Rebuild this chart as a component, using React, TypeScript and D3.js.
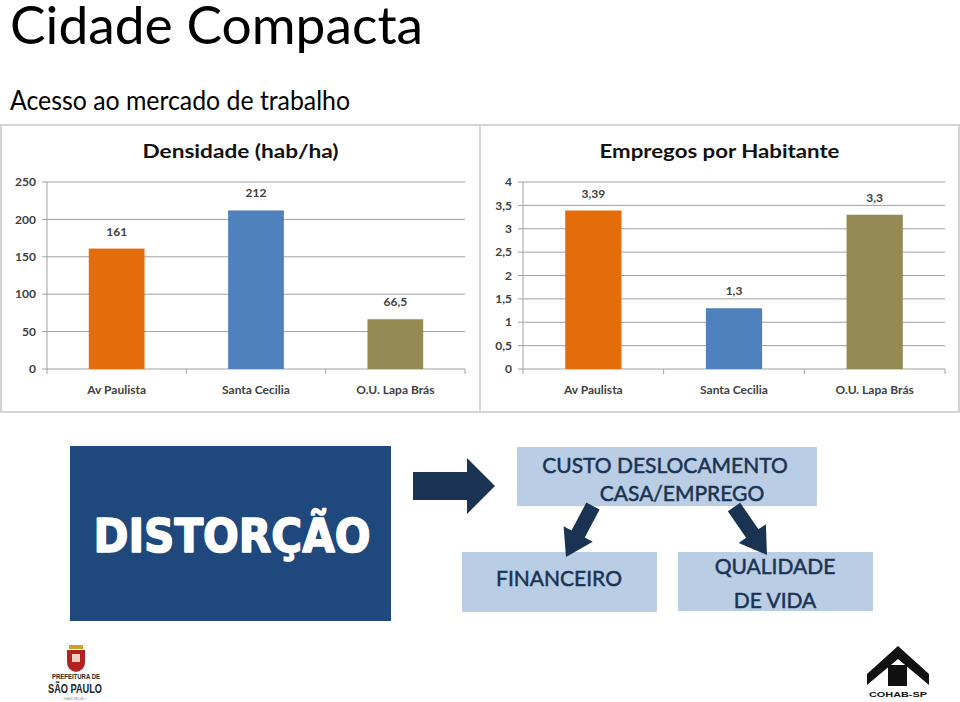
import React from 'react';
import * as d3 from 'd3';

// slide text
const slideTitle = 'Cidade Compacta';
const slideSubtitle = 'Acesso ao mercado de trabalho';

// chart data
const categories = ['Av Paulista', 'Santa Cecilia', 'O.U. Lapa Brás'];
const densityValues = [161, 212, 66.5];
const densityTicks = [0, 50, 100, 150, 200, 250];
const jobsValues = [3.39, 1.3, 3.3];
const jobsTicks = [0, 0.5, 1, 1.5, 2, 2.5, 3, 3.5, 4];
const barColors = ['#E46C0A', '#4F81BD', '#948A54'];

// diagram text
const mainBoxLines = ['CUSTO DESLOCAMENTO', 'CASA/EMPREGO'];
const leftBoxLines = ['FINANCEIRO'];
const rightBoxLines = ['QUALIDADE', 'DE VIDA'];

const ptBR = d3.formatLocale({ decimal: ',', thousands: '.', grouping: [3], currency: ['R$', ''] });
const fmt = ptBR.format('~g');

const NAVY = '#1A3352';
const LIGHT = '#B9CDE5';
const CHART_FONT = 'Lato, "Open Sans", sans-serif';

function arrowPoints(x1: number, y1: number, x2: number, y2: number, shaft: number, head: number, headLen: number) {
  const dx = x2 - x1;
  const dy = y2 - y1;
  const len = Math.hypot(dx, dy);
  const ux = dx / len, uy = dy / len;
  const px = -uy, py = ux;
  const bx = x2 - ux * headLen, by = y2 - uy * headLen;
  const pts = [
    [x1 + px * shaft / 2, y1 + py * shaft / 2],
    [bx + px * shaft / 2, by + py * shaft / 2],
    [bx + px * head / 2, by + py * head / 2],
    [x2, y2],
    [bx - px * head / 2, by - py * head / 2],
    [bx - px * shaft / 2, by - py * shaft / 2],
    [x1 - px * shaft / 2, y1 - py * shaft / 2],
  ];
  return pts.map(p => p.join(',')).join(' ');
}

type PanelProps = {
  frameX: number;
  frameW: number;
  axisX: number;
  plotRight: number;
  title: string;
  titleWidth: number;
  values: number[];
  ticks: number[];
};

function ChartPanel({ frameX, frameW, axisX, plotRight, title, titleWidth, values, ticks }: PanelProps) {
  const top = 125, bottom = 412;
  const y = d3.scaleLinear().domain([0, d3.max(ticks) as number]).range([369, 182]);
  const x = d3.scaleBand().domain(categories).range([axisX, plotRight]).paddingInner(0.6).paddingOuter(0.3);
  const step = x.step();
  const boundaries = d3.range(categories.length + 1).map(i => axisX + i * step);
  return (
    <g>
      <rect x={frameX} y={top} width={frameW} height={bottom - top} fill="#fff" stroke="#d4d4d4" strokeWidth={2} />
      <text x={frameX + frameW / 2} y={158} textAnchor="middle" fontFamily={CHART_FONT} fontWeight={700}
        fontSize={19} fill="#111" textLength={titleWidth} lengthAdjust="spacingAndGlyphs">{title}</text>
      {ticks.map(t => (
        <g key={t}>
          <line x1={axisX - 5} x2={plotRight} y1={y(t)} y2={y(t)} stroke="#a0a0a0" strokeWidth={1} />
          <text x={axisX - 11} y={y(t)} dy="0.35em" textAnchor="end" fontFamily={CHART_FONT}
            fontWeight={700} fontSize={12} fill="#404040">{fmt(t)}</text>
        </g>
      ))}
      <line x1={axisX} x2={axisX} y1={y(d3.max(ticks) as number)} y2={y(0)} stroke="#a0a0a0" />
      {boundaries.map((b, i) => (
        <line key={i} x1={b} x2={b} y1={y(0)} y2={y(0) + 5} stroke="#a0a0a0" />
      ))}
      {categories.map((c, i) => (
        <g key={c}>
          <rect x={x(c)} y={y(values[i])} width={x.bandwidth()} height={y(0) - y(values[i])} fill={barColors[i]} />
          <text x={(x(c) as number) + x.bandwidth() / 2} y={y(values[i]) - 13} textAnchor="middle"
            fontFamily={CHART_FONT} fontWeight={700} fontSize={12} fill="#404040">{fmt(values[i])}</text>
          <text x={(x(c) as number) + x.bandwidth() / 2} y={394} textAnchor="middle"
            fontFamily={CHART_FONT} fontWeight={700} fontSize={12} fill="#404040">{c}</text>
        </g>
      ))}
    </g>
  );
}

function TextBox({ x, y, w, h, lines, baselines, centers }: { x: number; y: number; w: number; h: number; lines: string[]; baselines: number[]; centers: number[] }) {
  return (
    <g>
      <rect x={x} y={y} width={w} height={h} fill={LIGHT} />
      {lines.map((l, i) => (
        <text key={l} x={centers[i]} y={baselines[i]} textAnchor="middle" fontFamily={CHART_FONT}
          fontSize={21} fill={NAVY} stroke={NAVY} strokeWidth={0.5}>{l}</text>
      ))}
    </g>
  );
}

export default function App() {
  return (
    <svg width={960} height={702} style={{ position: 'absolute', left: 0, top: 0, background: '#fff' }}>
      <text x={10} y={44} fontFamily={CHART_FONT} fontSize={53} fill="#000" textLength={413}
        lengthAdjust="spacingAndGlyphs">{slideTitle}</text>
      <text x={10} y={110} fontFamily={CHART_FONT} fontSize={27} fill="#000" textLength={340}
        lengthAdjust="spacingAndGlyphs">{slideSubtitle}</text>

      <ChartPanel frameX={1} frameW={479} axisX={47} plotRight={465} title="Densidade (hab/ha)"
        titleWidth={196} values={densityValues} ticks={densityTicks} />
      <ChartPanel frameX={480} frameW={479} axisX={523} plotRight={945} title="Empregos por Habitante"
        titleWidth={240} values={jobsValues} ticks={jobsTicks} />

      {/* distortion block */}
      <rect x={70} y={446} width={321} height={175} fill="#1F497D" />
      <text x={232} y={552} textAnchor="middle" fontFamily='"DejaVu Sans", sans-serif' fontWeight={700}
        fontSize={46} fill="#fff" stroke="#fff" strokeWidth={1.6} strokeLinejoin="round"
        textLength={277} lengthAdjust="spacingAndGlyphs">DISTORÇÃO</text>

      <polygon points={arrowPoints(413, 486, 495, 486, 28, 56, 28)} fill={NAVY} />

      <TextBox x={517} y={447} w={300} h={59} lines={mainBoxLines} baselines={[473, 501]} centers={[665, 682]} />
      <TextBox x={462} y={552} w={195} h={60} lines={leftBoxLines} baselines={[586]} centers={[559]} />
      <TextBox x={678} y={552} w={195} h={59} lines={rightBoxLines} baselines={[574, 608]} centers={[775, 775]} />

      <polygon points={arrowPoints(593, 506, 566, 557, 15, 33, 26)} fill={NAVY} />
      <polygon points={arrowPoints(734, 507, 767, 555, 15, 33, 26)} fill={NAVY} />

      {/* Prefeitura logo */}
      <g>
        <rect x={69} y={645} width={14} height={4} fill="#C9A227" />
        <path d="M67,650 h18 v12 q0,8 -9,10 q-9,-2 -9,-10 z" fill="#B22222" />
        <rect x={72} y={654} width={8} height={8} fill="#F0D0C0" />
        <text x={76} y={679} textAnchor="middle" fontFamily='"Liberation Sans Narrow", "Liberation Sans", sans-serif'
          fontWeight={700} fontSize={7.5} fill="#222" textLength={48} lengthAdjust="spacingAndGlyphs">PREFEITURA DE</text>
        <text x={75} y={693} textAnchor="middle" fontFamily='"Liberation Sans Narrow", "Liberation Sans", sans-serif'
          fontWeight={700} fontSize={12} fill="#222" textLength={54} lengthAdjust="spacingAndGlyphs">SÃO PAULO</text>
        <text x={75} y={700} textAnchor="middle" fontFamily='"Liberation Sans", sans-serif' fontSize={4}
          fill="#999">HABITAÇÃO</text>
      </g>

      {/* COHAB logo */}
      <g>
        <polygon points="898,646 929,674 929,685 898,659 867,685 867,674" fill="#111" />
        <rect x={888} y={665} width={19} height={21} fill="#111" />
        <text x={898} y={697} textAnchor="middle" fontFamily='"Liberation Sans", sans-serif' fontWeight={700}
          fontSize={8} fill="#111" textLength={58} lengthAdjust="spacingAndGlyphs">COHAB-SP</text>
      </g>
    </svg>
  );
}
